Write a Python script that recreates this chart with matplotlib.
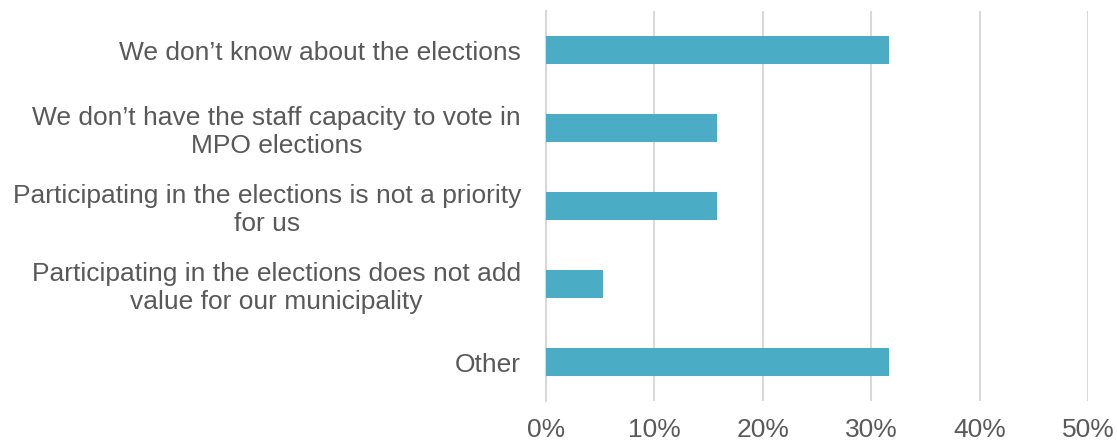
import matplotlib
matplotlib.use("Agg")
import matplotlib.pyplot as plt
from matplotlib.ticker import FuncFormatter

categories = [
    "We don\u2019t know about the elections",
    "We don\u2019t have the staff capacity to vote in\nMPO elections",
    "Participating in the elections is not a priority\nfor us",
    "Participating in the elections does not add\nvalue for our municipality",
    "Other",
]
values = [31.6, 15.8, 15.8, 5.3, 31.6]
xticks = [0, 10, 20, 30, 40, 50]

plt.rcParams['font.family'] = ['Liberation Sans', 'DejaVu Sans']
text_color = '#595959'
bar_color = '#4BACC6'
grid_color = '#D9D9D9'

fig = plt.figure(figsize=(11.17, 4.43), dpi=100)
ax = fig.add_axes([546/1117, 1 - 401/443, (1088 - 546)/1117, (401 - 11)/443])

y = list(range(len(categories)))
ax.barh(y, values, height=0.36, color=bar_color, zorder=3)
ax.set_ylim(len(categories) - 0.5, -0.5)
ax.set_xlim(0, 50)
ax.set_xticks(xticks)
ax.xaxis.set_major_formatter(FuncFormatter(lambda v, p: f"{int(v)}%"))
ax.set_yticks(y)
ax.set_yticklabels(categories, multialignment='center')

for s in ['top', 'right', 'bottom']:
    ax.spines[s].set_visible(False)
ax.spines['left'].set_color(grid_color)
ax.spines['left'].set_linewidth(1.5)
ax.grid(axis='x', color=grid_color, linewidth=1.5, zorder=0)
ax.tick_params(axis='both', length=0, labelsize=19, colors=text_color)
ax.tick_params(axis='y', pad=18)
ax.tick_params(axis='x', pad=12)

fig.savefig("out.png", dpi=100)
